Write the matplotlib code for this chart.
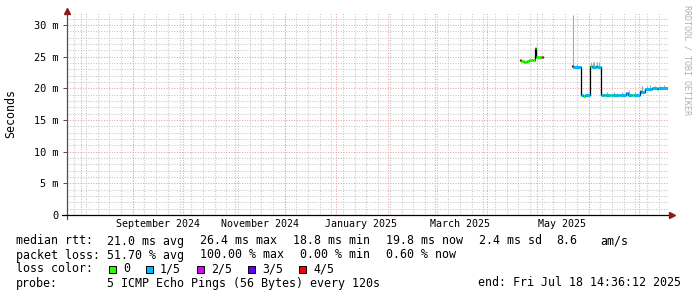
import matplotlib
matplotlib.use("Agg")
import matplotlib.pyplot as plt
import matplotlib.dates as mdates
from matplotlib.patches import Rectangle
from datetime import datetime, timedelta
import numpy as np

W, H = 697, 297
END = datetime(2025, 7, 18, 14, 36, 12)
START = END - timedelta(days=360)

# median rtt in ms, one entry per step; loss bucket 0..4 (x/5); nan = no data
med_time = [
    "2025-04-21 05:00", "2025-04-21 20:00", "2025-04-23 06:00", "2025-04-25 00:00",
    "2025-04-26 06:00", "2025-04-28 12:00", "2025-04-30 05:00", "2025-04-30 19:00",
    "2025-05-03 10:00", "2025-05-04 00:00", "2025-05-04 22:00",
    "2025-05-22 00:00", "2025-05-22 14:00", "2025-05-27 10:00", "2025-05-28 12:00",
    "2025-05-30 00:00", "2025-06-01 19:00", "2025-06-02 19:00", "2025-06-05 06:00",
    "2025-06-06 00:00", "2025-06-08 05:00", "2025-06-10 00:00", "2025-06-11 00:00",
    "2025-06-14 00:00", "2025-06-15 00:00", "2025-06-19 00:00", "2025-06-20 00:00",
    "2025-06-23 10:00", "2025-06-24 12:00", "2025-06-27 00:00", "2025-06-28 00:00",
    "2025-07-01 19:00", "2025-07-02 12:00", "2025-07-04 19:00", "2025-07-09 00:00",
    "2025-07-12 00:00", "2025-07-12 20:00", "2025-07-18 14:36",
]
med_ms = [
    24.4, 24.3, 24.1, 24.3,
    24.5, 24.5, 26.4, 24.9,
    24.9, 25.0, np.nan,
    23.5, 23.4, 18.9, 18.8,
    18.9, 23.5, 23.4, 23.5,
    23.4, 18.9, 18.9, 19.0,
    18.9, 19.0, 18.9, 19.0,
    19.3, 19.0, 18.9, 19.0,
    19.6, 19.4, 19.9, 20.0,
    19.9, 20.0, 19.8,
]
med_loss = [
    4, 0, 0, 0,
    0, 0, 0, 0,
    1, 4, 0,
    4, 1, 1, 0,
    1, 0, 1, 0,
    1, 1, 0, 1,
    0, 1, 0, 1,
    1, 1, 0, 1,
    1, 1, 1, 1,
    0, 1, 1,
]

# smoke: spread of the single pings around the median (ms)
smoke_time = [
    "2025-05-22 14:00", "2025-05-25 00:00", "2025-06-02 12:00", "2025-06-03 12:00",
    "2025-06-04 12:00", "2025-06-06 00:00", "2025-06-07 00:00", "2025-06-12 00:00",
    "2025-06-16 00:00", "2025-06-21 00:00", "2025-06-25 00:00", "2025-06-29 00:00",
    "2025-07-03 00:00", "2025-07-06 00:00", "2025-07-08 00:00", "2025-07-11 00:00",
    "2025-07-14 00:00", "2025-07-16 00:00",
]
smoke_lo = [23.4, 23.4, 23.4, 23.4, 23.4, 23.4, 23.4, 18.9, 18.9, 18.9, 19.0, 18.9,
            19.4, 19.9, 20.0, 20.0, 19.9, 19.9]
smoke_hi = [31.6, 23.9, 24.2, 24.2, 24.1, 24.2, 24.1, 19.4, 19.5, 19.4, 19.7, 19.4,
            20.3, 20.4, 20.5, 20.4, 20.4, 20.5]

loss_colors = ["#26ff00", "#00b8ff", "#dd00ff", "#5e00ff", "#ff0000"]
loss_names = ["0", "1/5", "2/5", "3/5", "4/5"]

y_ticks = [0, 5, 10, 15, 20, 25, 30]

med_t = [datetime.fromisoformat(s) for s in med_time]
smoke_t = [datetime.fromisoformat(s) for s in smoke_time]

mono = "DejaVu Sans Mono"
fig = plt.figure(figsize=(W / 100, H / 100), dpi=100)
fig.patch.set_facecolor("white")
ax = fig.add_axes([67 / W, (H - 215) / H, 601 / W, 202 / H])
ax.set_xlim(START, END)
ax.set_ylim(0, 31.9)
for s in ax.spines.values():
    s.set_visible(False)

# grid: weekly / 1 ms minor, monthly / 5 ms major
dot = (0, (1, 1.5))
minor_c, major_c = "#c6c6c6", "#eba2a2"
d = START.date()
while d <= END.date():
    if d.weekday() == 6:
        ax.axvline(datetime(d.year, d.month, d.day), color=minor_c, lw=0.75, ls=dot, zorder=0)
    d += timedelta(days=1)
for v in range(1, 32):
    if v % 5:
        ax.axhline(v, color=minor_c, lw=0.75, ls=dot, zorder=0)
m = datetime(2024, 8, 1)
while m < END:
    ax.axvline(m, color=major_c, lw=0.75, ls=dot, zorder=1)
    m = datetime(m.year + (m.month // 12), m.month % 12 + 1, 1)
for v in y_ticks[1:]:
    ax.axhline(v, color=major_c, lw=0.75, ls=dot, zorder=1)

# smoke
ax.vlines(smoke_t, smoke_lo, smoke_hi, color="#a8a8a8", lw=0.8, zorder=2)

# median: black step line underneath, loss coloured band on top
ax.step(med_t, med_ms, where="post", color="black", lw=0.9, zorder=3)
for i in range(len(med_t) - 1):
    if np.isfinite(med_ms[i]):
        ax.hlines(med_ms[i], med_t[i], med_t[i + 1], color=loss_colors[med_loss[i]],
                  lw=2.2, zorder=4)

# axes with arrows
ax.plot([0, 0], [-0.02, 1.0], transform=ax.transAxes, color="#505050", lw=0.9,
        clip_on=False, zorder=5)
ax.plot([-0.008, 1.003], [0, 0], transform=ax.transAxes, color="black", lw=0.9,
        clip_on=False, zorder=5)
ax.plot([0], [1.01], transform=ax.transAxes, marker="^", ms=4.5, color="#8b1a1a",
        clip_on=False, zorder=6)
ax.plot([1.007], [0], transform=ax.transAxes, marker=">", ms=4.5, color="#8b1a1a",
        clip_on=False, zorder=6)

# ticks and labels
label_months = [datetime(2024, 9, 1), datetime(2024, 11, 1), datetime(2025, 1, 1),
                datetime(2025, 3, 1), datetime(2025, 5, 1)]
ax.set_xticks([t + timedelta(days=15) for t in label_months])
ax.xaxis.set_major_formatter(mdates.DateFormatter("%B %Y"))
ax.tick_params(axis="x", length=0, pad=3, labelsize=7.2)
ax.set_yticks(y_ticks)
ax.set_yticklabels(["0"] + [f"{v} m" for v in y_ticks[1:]])
ax.tick_params(axis="y", length=3, width=0.7, color="#505050", pad=3, labelsize=7.4)
for lab in ax.get_xticklabels() + ax.get_yticklabels():
    lab.set_fontfamily(mono)
ax.set_ylabel("Seconds", fontfamily=mono, fontsize=8.4, labelpad=12)

fig.text(687 / W, 1 - 60 / H, "RRDTOOL / TOBI OETIKER", rotation=270, fontsize=6,
         fontfamily=mono, color="#b0b0b0", ha="center", va="center")


def txt(x, y, s):
    fig.text(x / W, 1 - y / H, s, fontfamily=mono, fontsize=8.4, ha="left", va="center")


txt(16, 241, "median rtt:")
txt(107, 241, "21.0 ms avg")
txt(200, 241, "26.4 ms max")
txt(293, 241, "18.8 ms min")
txt(386, 241, "19.8 ms now")
txt(479, 241, "2.4 ms sd")
txt(556, 241, "8.6")
txt(600, 241, "am/s")

txt(16, 255, "packet loss:")
txt(107, 255, "51.70 % avg")
txt(200, 255, "100.00 % max")
txt(300, 255, "0.00 % min")
txt(386, 255, "0.60 % now")

txt(16, 269, "loss color:")
sw_x = [108.5, 145.5, 196.5, 247.5, 298.5]
for x, c, name in zip(sw_x, loss_colors, loss_names):
    fig.add_artist(Rectangle((x / W, 1 - 273 / H), 7.5 / W, 7.5 / H, facecolor=c,
                             edgecolor="black", lw=0.7, transform=fig.transFigure))
    txt(x + 14.5, 269, name)

txt(16, 283, "probe:")
txt(107, 283, "5 ICMP Echo Pings (56 Bytes) every 120s")
txt(478, 283, "end: Fri Jul 18 14:36:12 2025")

fig.savefig("out.png", dpi=100, facecolor="white")
